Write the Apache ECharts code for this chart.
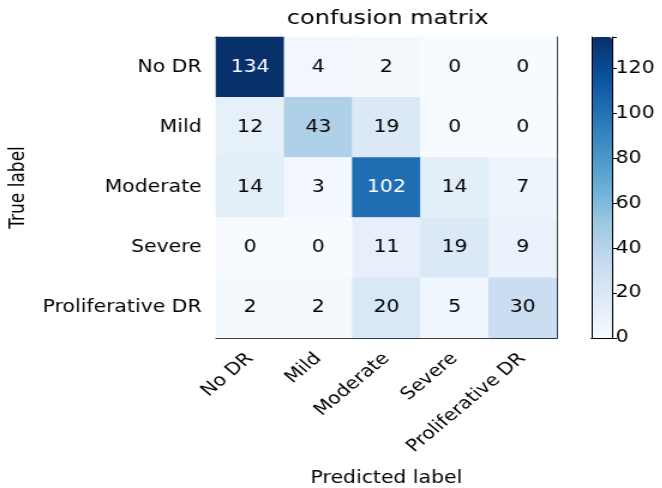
<!DOCTYPE html>
<html>
<head>
    <meta charset="utf-8">
    <title>confusion matrix</title>
    <script src="https://cdn.jsdelivr.net/npm/echarts@6/dist/echarts.min.js"></script>
    <style>
        html, body { margin: 0; padding: 0; background: #fff; overflow: hidden; }
        /* the reference picture is stretched sideways, so the chart is too */
        #chart { width: 552px; height: 488px; transform: scale(1.2, 1); transform-origin: 0 0; }
    </style>
</head>
<body>
<div id="chart"></div>
<script>
    // class names (rows = true label, columns = predicted label)
    var classes = ['No DR', 'Mild', 'Moderate', 'Severe', 'Proliferative DR'];
    // counts, one row per true class
    var rowNoDR = [134, 4, 2, 0, 0];
    var rowMild = [12, 43, 19, 0, 0];
    var rowModerate = [14, 3, 102, 14, 7];
    var rowSevere = [0, 0, 11, 19, 9];
    var rowProlif = [2, 2, 20, 5, 30];
    var matrix = [rowNoDR, rowMild, rowModerate, rowSevere, rowProlif];
    var colorbarTicks = [0, 20, 40, 60, 80, 100, 120];

    var vmax = 134;
    var thresh = vmax / 2;
    var font = 'DejaVu Sans';
    var fs = 17;

    var data = [];
    for (var i = 0; i < matrix.length; i++) {
        for (var j = 0; j < matrix[i].length; j++) {
            var v = matrix[i][j];
            data.push({
                value: [j, i, v],
                label: { color: v > thresh ? '#fff' : '#000' }
            });
        }
    }

    // layout in the unstretched frame (x / 1.2)
    var G = { left: 180, top: 37, width: 284, height: 301 };
    var CB = { left: 493, top: 37, width: 17, height: 301 };

    var myChart = echarts.init(document.getElementById('chart'));
    var option = {
        backgroundColor: '#fff',
        animation: false,
        title: {
            text: 'confusion matrix',
            left: G.left + G.width / 2 - 4,
            textAlign: 'center',
            top: 4,
            textStyle: { fontFamily: font, fontSize: 20, fontWeight: 'normal', color: '#000' }
        },
        grid: [
            { left: G.left, top: G.top, width: G.width, height: G.height, outerBoundsMode: 'none' },
            { left: CB.left, top: CB.top, width: CB.width, height: CB.height, outerBoundsMode: 'none' }
        ],
        xAxis: [
            {
                type: 'category', gridIndex: 0, data: classes,
                name: 'Predicted label', nameLocation: 'middle', nameGap: 132,
                nameTextStyle: { fontFamily: font, fontSize: fs, color: '#000' },
                axisLine: { lineStyle: { color: '#000', width: 1 } },
                axisTick: { alignWithLabel: true, length: 6, lineStyle: { color: '#000' } },
                axisLabel: { rotate: 45, fontFamily: font, fontSize: fs, color: '#000', margin: 18, interval: 0 },
                splitLine: { show: false }
            },
            {
                type: 'category', gridIndex: 0, data: classes, position: 'top',
                axisLine: { lineStyle: { color: '#000', width: 1 } },
                axisTick: { show: false }, axisLabel: { show: false }
            },
            {
                type: 'category', gridIndex: 1, data: [''], z: 10,
                axisLine: { lineStyle: { color: '#000' } },
                axisTick: { show: false }, axisLabel: { show: false }
            },
            {
                type: 'category', gridIndex: 1, data: [''], position: 'top', z: 10,
                axisLine: { lineStyle: { color: '#000' } },
                axisTick: { show: false }, axisLabel: { show: false }
            }
        ],
        yAxis: [
            {
                type: 'category', gridIndex: 0, data: classes, inverse: true,
                name: 'True label', nameLocation: 'middle', nameGap: 156,
                nameTextStyle: { fontFamily: font, fontSize: fs, color: '#000' },
                axisLine: { lineStyle: { color: '#000', width: 1 } },
                axisTick: { alignWithLabel: true, length: 5, lineStyle: { color: '#000' } },
                axisLabel: { fontFamily: font, fontSize: fs, color: '#000', margin: 12, interval: 0 },
                splitLine: { show: false }
            },
            {
                type: 'category', gridIndex: 0, data: classes, inverse: true, position: 'right',
                axisLine: { lineStyle: { color: '#000', width: 1 } },
                axisTick: { show: false }, axisLabel: { show: false }
            },
            {
                type: 'value', gridIndex: 1, min: 0, max: vmax, position: 'right',
                interval: 20, z: 10,
                axisLine: { show: true, lineStyle: { color: '#000' } },
                axisTick: { show: true, length: 4, lineStyle: { color: '#000' } },
                axisLabel: {
                    fontFamily: font, fontSize: fs, color: '#000', margin: 3,
                    formatter: function (v) { return colorbarTicks.indexOf(v) >= 0 ? v : ''; }
                },
                splitLine: { show: false }
            },
            {
                type: 'value', gridIndex: 1, min: 0, max: vmax, position: 'left', z: 10,
                axisLine: { show: true, lineStyle: { color: '#000' } },
                axisTick: { show: false }, axisLabel: { show: false },
                splitLine: { show: false }
            }
        ],
        visualMap: {
            type: 'continuous',
            min: 0, max: vmax,
            seriesIndex: 0,
            calculable: false,
            orient: 'vertical',
            left: CB.left, top: CB.top,
            itemWidth: CB.width, itemHeight: CB.height,
            padding: 0,
            text: ['', ''],
            showLabel: false,
            inRange: {
                color: ['#f7fbff', '#deebf7', '#c6dbef', '#9ecae1', '#6baed6',
                        '#4292c6', '#2171b5', '#08519c', '#08306b']
            }
        },
        series: [
            {
                type: 'heatmap',
                xAxisIndex: 0, yAxisIndex: 0,
                data: data,
                label: { show: true, fontFamily: font, fontSize: fs },
                itemStyle: { borderWidth: 0 },
                emphasis: { disabled: true }
            }
        ]
    };
    myChart.setOption(option);
</script>
</body>
</html>
